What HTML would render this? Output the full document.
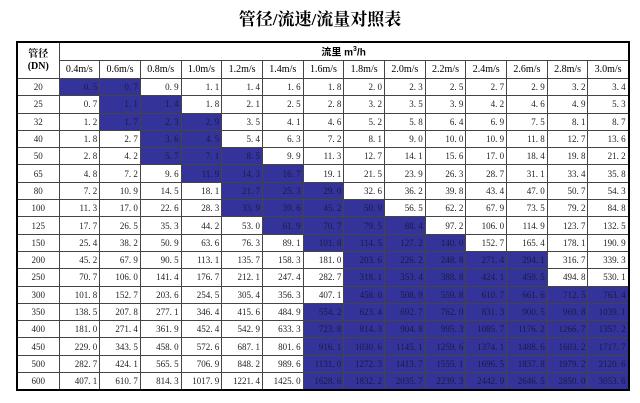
<!DOCTYPE html>
<html><head><meta charset="utf-8"><style>
body{margin:0;width:640px;height:403px;background:#fff;position:relative;overflow:hidden;font-family:"Liberation Serif","Noto Serif CJK SC",serif;}
h1{position:absolute;top:5px;left:0;width:640px;text-align:center;margin:0;font-size:17px;font-weight:bold;font-family:"Liberation Serif","Noto Serif CJK SC",serif;}
table{position:absolute;left:16px;top:41px;border-collapse:collapse;table-layout:fixed;width:612px;border:2px solid #000;}
td{border:1px solid #444;padding:0 2px 0 0;height:16.3px;font-size:9px;text-align:right;color:#222;white-space:nowrap;overflow:hidden;line-height:10px;font-family:"Liberation Serif","Noto Serif CJK SC",serif;}
td.b{background:#333399;color:#1a1a4a;}
td.d{text-align:center;padding:0;}
tr.h td{font-size:10px;text-align:center;padding:0;height:17px;color:#000;}
td.q{text-align:left;padding-left:255px;font-weight:bold;font-size:11px;font-family:"Liberation Sans","Noto Sans CJK SC",sans-serif;}
td.g{text-align:center;padding:0;font-weight:bold;font-size:10px;color:#000;line-height:12px;}
</style></head><body>
<h1>管径/流速/流量对照表</h1>
<table>
<colgroup><col style="width:42px"><col span="14" style="width:40.7px"></colgroup>
<tr class="h"><td class="g" rowspan="2">管径<br>(DN)</td><td class="q" colspan="14">流里 m<sup style="font-size:7px">3</sup>/h</td></tr>
<tr class="h"><td>0.4m/s</td><td>0.6m/s</td><td>0.8m/s</td><td>1.0m/s</td><td>1.2m/s</td><td>1.4m/s</td><td>1.6m/s</td><td>1.8m/s</td><td>2.0m/s</td><td>2.2m/s</td><td>2.4m/s</td><td>2.6m/s</td><td>2.8m/s</td><td>3.0m/s</td></tr>
<tr><td class="d">20</td><td class="b">0. 5</td><td class="b">0. 7</td><td>0. 9</td><td>1. 1</td><td>1. 4</td><td>1. 6</td><td>1. 8</td><td>2. 0</td><td>2. 3</td><td>2. 5</td><td>2. 7</td><td>2. 9</td><td>3. 2</td><td>3. 4</td></tr>
<tr><td class="d">25</td><td>0. 7</td><td class="b">1. 1</td><td class="b">1. 4</td><td>1. 8</td><td>2. 1</td><td>2. 5</td><td>2. 8</td><td>3. 2</td><td>3. 5</td><td>3. 9</td><td>4. 2</td><td>4. 6</td><td>4. 9</td><td>5. 3</td></tr>
<tr><td class="d">32</td><td>1. 2</td><td class="b">1. 7</td><td class="b">2. 3</td><td class="b">2. 9</td><td>3. 5</td><td>4. 1</td><td>4. 6</td><td>5. 2</td><td>5. 8</td><td>6. 4</td><td>6. 9</td><td>7. 5</td><td>8. 1</td><td>8. 7</td></tr>
<tr><td class="d">40</td><td>1. 8</td><td>2. 7</td><td class="b">3. 6</td><td class="b">4. 5</td><td>5. 4</td><td>6. 3</td><td>7. 2</td><td>8. 1</td><td>9. 0</td><td>10. 0</td><td>10. 9</td><td>11. 8</td><td>12. 7</td><td>13. 6</td></tr>
<tr><td class="d">50</td><td>2. 8</td><td>4. 2</td><td class="b">5. 7</td><td class="b">7. 1</td><td class="b">8. 5</td><td>9. 9</td><td>11. 3</td><td>12. 7</td><td>14. 1</td><td>15. 6</td><td>17. 0</td><td>18. 4</td><td>19. 8</td><td>21. 2</td></tr>
<tr><td class="d">65</td><td>4. 8</td><td>7. 2</td><td>9. 6</td><td class="b">11. 9</td><td class="b">14. 3</td><td class="b">16. 7</td><td>19. 1</td><td>21. 5</td><td>23. 9</td><td>26. 3</td><td>28. 7</td><td>31. 1</td><td>33. 4</td><td>35. 8</td></tr>
<tr><td class="d">80</td><td>7. 2</td><td>10. 9</td><td>14. 5</td><td>18. 1</td><td class="b">21. 7</td><td class="b">25. 3</td><td class="b">29. 0</td><td>32. 6</td><td>36. 2</td><td>39. 8</td><td>43. 4</td><td>47. 0</td><td>50. 7</td><td>54. 3</td></tr>
<tr><td class="d">100</td><td>11. 3</td><td>17. 0</td><td>22. 6</td><td>28. 3</td><td class="b">33. 9</td><td class="b">39. 6</td><td class="b">45. 2</td><td class="b">50. 9</td><td>56. 5</td><td>62. 2</td><td>67. 9</td><td>73. 5</td><td>79. 2</td><td>84. 8</td></tr>
<tr><td class="d">125</td><td>17. 7</td><td>26. 5</td><td>35. 3</td><td>44. 2</td><td>53. 0</td><td class="b">61. 9</td><td class="b">70. 7</td><td class="b">79. 5</td><td class="b">88. 4</td><td>97. 2</td><td>106. 0</td><td>114. 9</td><td>123. 7</td><td>132. 5</td></tr>
<tr><td class="d">150</td><td>25. 4</td><td>38. 2</td><td>50. 9</td><td>63. 6</td><td>76. 3</td><td>89. 1</td><td class="b">101. 8</td><td class="b">114. 5</td><td class="b">127. 2</td><td class="b">140. 0</td><td>152. 7</td><td>165. 4</td><td>178. 1</td><td>190. 9</td></tr>
<tr><td class="d">200</td><td>45. 2</td><td>67. 9</td><td>90. 5</td><td>113. 1</td><td>135. 7</td><td>158. 3</td><td>181. 0</td><td class="b">203. 6</td><td class="b">226. 2</td><td class="b">248. 8</td><td class="b">271. 4</td><td class="b">294. 1</td><td>316. 7</td><td>339. 3</td></tr>
<tr><td class="d">250</td><td>70. 7</td><td>106. 0</td><td>141. 4</td><td>176. 7</td><td>212. 1</td><td>247. 4</td><td>282. 7</td><td class="b">318. 1</td><td class="b">353. 4</td><td class="b">388. 8</td><td class="b">424. 1</td><td class="b">459. 5</td><td>494. 8</td><td>530. 1</td></tr>
<tr><td class="d">300</td><td>101. 8</td><td>152. 7</td><td>203. 6</td><td>254. 5</td><td>305. 4</td><td>356. 3</td><td>407. 1</td><td class="b">458. 0</td><td class="b">508. 9</td><td class="b">559. 8</td><td class="b">610. 7</td><td class="b">661. 6</td><td class="b">712. 5</td><td class="b">763. 4</td></tr>
<tr><td class="d">350</td><td>138. 5</td><td>207. 8</td><td>277. 1</td><td>346. 4</td><td>415. 6</td><td>484. 9</td><td class="b">554. 2</td><td class="b">623. 4</td><td class="b">692. 7</td><td class="b">762. 0</td><td class="b">831. 3</td><td class="b">900. 5</td><td class="b">969. 8</td><td class="b">1039. 1</td></tr>
<tr><td class="d">400</td><td>181. 0</td><td>271. 4</td><td>361. 9</td><td>452. 4</td><td>542. 9</td><td>633. 3</td><td class="b">723. 8</td><td class="b">814. 3</td><td class="b">904. 8</td><td class="b">995. 3</td><td class="b">1085. 7</td><td class="b">1176. 2</td><td class="b">1266. 7</td><td class="b">1357. 2</td></tr>
<tr><td class="d">450</td><td>229. 0</td><td>343. 5</td><td>458. 0</td><td>572. 6</td><td>687. 1</td><td>801. 6</td><td class="b">916. 1</td><td class="b">1030. 6</td><td class="b">1145. 1</td><td class="b">1259. 6</td><td class="b">1374. 1</td><td class="b">1488. 6</td><td class="b">1603. 2</td><td class="b">1717. 7</td></tr>
<tr><td class="d">500</td><td>282. 7</td><td>424. 1</td><td>565. 5</td><td>706. 9</td><td>848. 2</td><td>989. 6</td><td class="b">1131. 0</td><td class="b">1272. 3</td><td class="b">1413. 7</td><td class="b">1555. 1</td><td class="b">1696. 5</td><td class="b">1837. 8</td><td class="b">1979. 2</td><td class="b">2120. 6</td></tr>
<tr><td class="d">600</td><td>407. 1</td><td>610. 7</td><td>814. 3</td><td>1017. 9</td><td>1221. 4</td><td>1425. 0</td><td class="b">1628. 6</td><td class="b">1832. 2</td><td class="b">2035. 7</td><td class="b">2239. 3</td><td class="b">2442. 9</td><td class="b">2646. 5</td><td class="b">2850. 0</td><td class="b">3053. 6</td></tr>
</table>
</body></html>
